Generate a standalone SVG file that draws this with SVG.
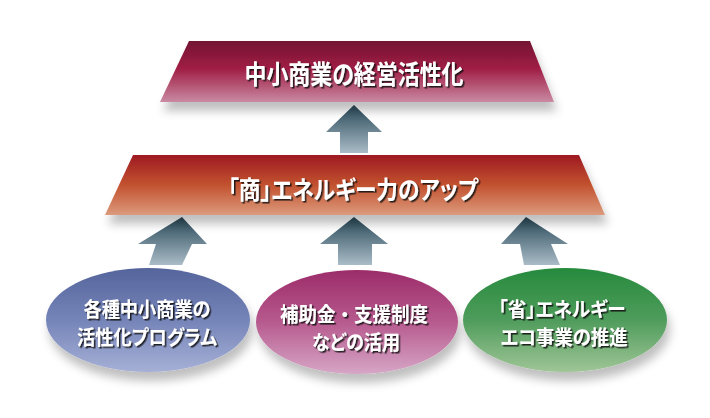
<svg xmlns="http://www.w3.org/2000/svg" width="710" height="418" viewBox="0 0 710 418">
<defs>
<linearGradient id="gTop" x1="0" y1="0" x2="0" y2="1">
<stop offset="0" stop-color="#741433"/>
<stop offset="0.45" stop-color="#a01d45"/>
<stop offset="1" stop-color="#c98aa2"/>
</linearGradient>
<linearGradient id="gMid" x1="0" y1="0" x2="0" y2="1">
<stop offset="0" stop-color="#9e1a22"/>
<stop offset="0.5" stop-color="#c2522f"/>
<stop offset="1" stop-color="#dc9a7c"/>
</linearGradient>
<linearGradient id="gArrow" x1="0" y1="0" x2="0" y2="1">
<stop offset="0" stop-color="#274756"/>
<stop offset="1" stop-color="#aabcc8"/>
</linearGradient>
<linearGradient id="gBlue" x1="0" y1="0" x2="0" y2="1">
<stop offset="0" stop-color="#55659c"/>
<stop offset="0.5" stop-color="#7584b8"/>
<stop offset="1" stop-color="#a6b0d6"/>
</linearGradient>
<linearGradient id="gPink" x1="0" y1="0" x2="0" y2="1">
<stop offset="0" stop-color="#9c2c6a"/>
<stop offset="0.5" stop-color="#b75a8e"/>
<stop offset="1" stop-color="#d6a6c6"/>
</linearGradient>
<linearGradient id="gGreen" x1="0" y1="0" x2="0" y2="1">
<stop offset="0" stop-color="#268a3c"/>
<stop offset="0.5" stop-color="#4f9c5c"/>
<stop offset="1" stop-color="#9fc596"/>
</linearGradient>
<filter id="shadow" x="-20%" y="-20%" width="140%" height="160%">
<feGaussianBlur in="SourceAlpha" stdDeviation="5"/>
<feOffset dx="3" dy="9" result="b"/>
<feFlood flood-color="#000" flood-opacity="0.25"/>
<feComposite in2="b" operator="in"/>
<feMerge><feMergeNode/><feMergeNode in="SourceGraphic"/></feMerge>
</filter>
<filter id="tshadow" x="-10%" y="-30%" width="120%" height="160%">
<feDropShadow dx="1.6" dy="1.6" stdDeviation="0.7" flood-color="#111" flood-opacity="0.85"/>
</filter>
<style>
.t{font-family:"Noto Sans CJK JP","Noto Sans CJK SC",sans-serif;font-weight:bold;fill:#fff;text-anchor:middle;filter:url(#tshadow);}
.p{font-feature-settings:"palt";}
.big{font-size:26px;}
.mid{font-size:25px;}
.sm{font-size:20px;}
.arrow{fill:url(#gArrow);}
</style>
</defs>
<rect width="710" height="418" fill="#fff"/>
<g id="connectors">
<polygon class="arrow" points="354,105 382,132 368,132 368,153 340,153 340,132 326,132"/>
<polygon class="arrow" points="182,217 207,244 192,244 182,265 149,265 156,244 138,244"/>
<polygon class="arrow" points="354,217 388,244 372,244 372,265 338,265 338,244 320,244"/>
<polygon class="arrow" points="526,217 568,244 551,244 560,265 524,265 520,244 501,244"/>
</g>
<g id="node-top">
<polygon points="189,41 530,41 554,102 160,102" fill="url(#gTop)" filter="url(#shadow)"/>
<text class="t big p" x="354" y="84" textLength="219" lengthAdjust="spacingAndGlyphs">中小商業の経営活性化</text>
</g>
<g id="node-mid">
<polygon points="133,155 579,155 605,215 105,215" fill="url(#gMid)" filter="url(#shadow)"/>
<text class="t mid p" x="353" y="199" textLength="250" lengthAdjust="spacingAndGlyphs">「商」エネルギー力のアップ</text>
</g>
<g id="node-left">
<ellipse cx="148" cy="320" rx="102" ry="52" fill="url(#gBlue)" filter="url(#shadow)"/>
<text class="t sm p" x="147" y="317" textLength="127" lengthAdjust="spacingAndGlyphs">各種中小商業の</text>
<text class="t sm p" x="147" y="345" textLength="140" lengthAdjust="spacingAndGlyphs">活性化プログラム</text>
</g>
<g id="node-center">
<ellipse cx="357" cy="322" rx="101" ry="52" fill="url(#gPink)" filter="url(#shadow)"/>
<text class="t sm" x="354" y="322" textLength="148" lengthAdjust="spacingAndGlyphs">補助金・支援制度</text>
<text class="t sm p" x="356" y="350" textLength="88" lengthAdjust="spacingAndGlyphs">などの活用</text>
</g>
<g id="node-right">
<ellipse cx="565" cy="320" rx="102" ry="52" fill="url(#gGreen)" filter="url(#shadow)"/>
<text class="t sm p" x="562" y="317" textLength="127" lengthAdjust="spacingAndGlyphs">「省」エネルギー</text>
<text class="t sm p" x="564" y="345" textLength="127" lengthAdjust="spacingAndGlyphs">エコ事業の推進</text>
</g>
</svg>
